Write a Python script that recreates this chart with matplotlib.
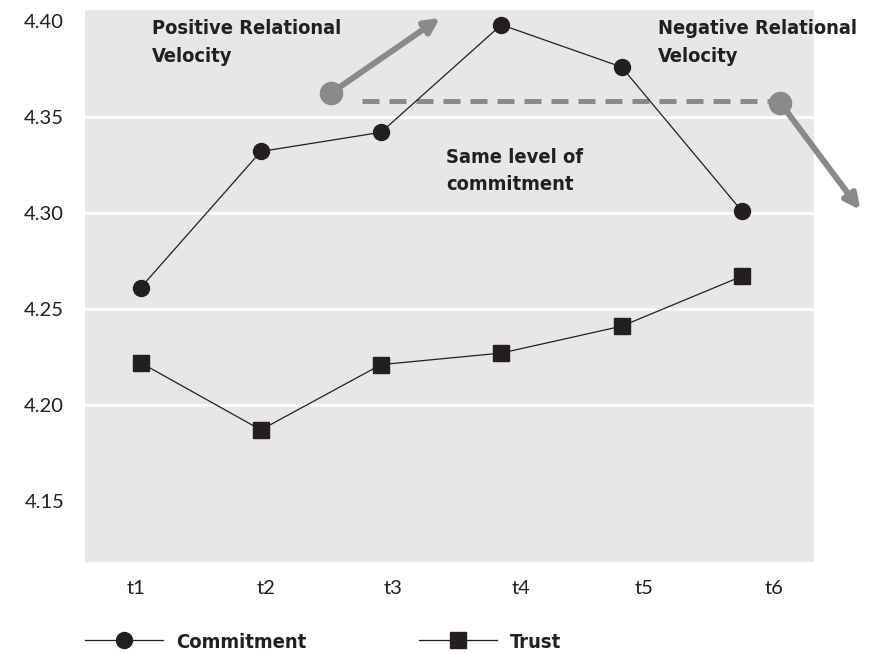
import numpy as np
import matplotlib
matplotlib.use("Agg")
from matplotlib import pyplot as plt
from matplotlib import font_manager

# values
periods = ["t1", "t2", "t3", "t4", "t5", "t6"]
commitment = [4.261, 4.332, 4.342, 4.398, 4.376, 4.301]
trust = [4.222, 4.187, 4.221, 4.227, 4.241, 4.267]
y_ticks = [4.15, 4.20, 4.25, 4.30, 4.35, 4.40]
# label positions as printed in the original (slightly off the points)
tick_pos = [0.96, 2.04, 3.10, 4.16, 5.19, 6.27]

ink = "#231f20"
gray = "#8a8a8a"
plt.rcParams["font.family"] = ["Lato", "DejaVu Sans"]

# condensed bold face for the callouts, if the system has one
cond = [f for f in font_manager.fontManager.ttflist
        if f.name == "DejaVu Sans" and "ondensed" in str(f.stretch) + f.fname
        and f.weight in ("bold", 700)]
if cond:
    bold = dict(fname=cond[0].fname)
    scale = 1.0
else:
    bold = dict(family="DejaVu Sans", weight="bold")
    scale = 0.85

x = np.arange(1, len(periods) + 1)

fig = plt.figure(figsize=(8.82, 6.53), dpi=100)
ax = fig.add_axes([0.0964, 0.1394, 0.8265, 0.8453])
ax.set_facecolor("#e6e7e8")

# white gridlines
for v in y_ticks[1:-1]:
    ax.axhline(v, color="white", lw=2, zorder=1)

c_line, = ax.plot(x, commitment, color=ink, lw=0.9, marker="o", ms=11.5,
                  label="Commitment", zorder=4)
t_line, = ax.plot(x, trust, color=ink, lw=0.9, marker="s", ms=11,
                  label="Trust", zorder=4)

ax.set_xlim(0.538, 6.60)
ax.set_ylim(4.1182, 4.4057)
ax.set_yticks(y_ticks)
ax.set_yticklabels(["%.2f" % v for v in y_ticks])
ax.set_xticks(tick_pos)
ax.set_xticklabels(periods)
ax.tick_params(axis="both", length=0, labelsize=14.5, labelcolor=ink)
ax.tick_params(axis="y", pad=15)
ax.tick_params(axis="x", pad=13)
for s in ax.spines.values():
    s.set_visible(False)

# relational velocity annotations
ax.plot([2.585], [4.3625], marker="o", ms=16, color=gray, zorder=3, clip_on=False)
ax.annotate("", xy=(3.49, 4.4016), xytext=(2.585, 4.3625),
            arrowprops=dict(arrowstyle="-|>", lw=4.3, color=gray, mutation_scale=22,
                            shrinkA=0, shrinkB=0), zorder=3)
ax.plot([2.843, 6.236], [4.3583, 4.3583], color=gray, lw=3.6,
        dashes=(3.4, 2.0), zorder=3)
ax.plot([6.32], [4.3573], marker="o", ms=16, color=gray, zorder=3, clip_on=False)
ax.annotate("", xy=(6.985, 4.3016), xytext=(6.32, 4.3573),
            arrowprops=dict(arrowstyle="-|>", lw=4.3, color=gray, mutation_scale=22,
                            shrinkA=0, shrinkB=0), zorder=3, annotation_clip=False)

fp = font_manager.FontProperties(size=14.4 * scale, **bold)
ax.text(1.096, 4.4010, "Positive Relational\nVelocity", fontproperties=fp,
        color=ink, va="top", ha="left", linespacing=1.6)
ax.text(5.30, 4.4010, "Negative Relational\nVelocity", fontproperties=fp,
        color=ink, va="top", ha="left", linespacing=1.6, clip_on=False)
ax.text(3.54, 4.3340, "Same level of\ncommitment", fontproperties=fp,
        color=ink, va="top", ha="left", linespacing=1.55)

fp_leg = font_manager.FontProperties(size=14.5 * scale, **bold)
leg = fig.legend(handles=[c_line, t_line], loc="center left",
                 bbox_to_anchor=(0.0964, 0.0168), ncol=2, frameon=False,
                 borderpad=0, borderaxespad=0, handlelength=3.87,
                 handletextpad=0.65, columnspacing=5.6, prop=fp_leg)
for txt in leg.get_texts():
    txt.set_color(ink)

fig.savefig("out.png", dpi=100)
